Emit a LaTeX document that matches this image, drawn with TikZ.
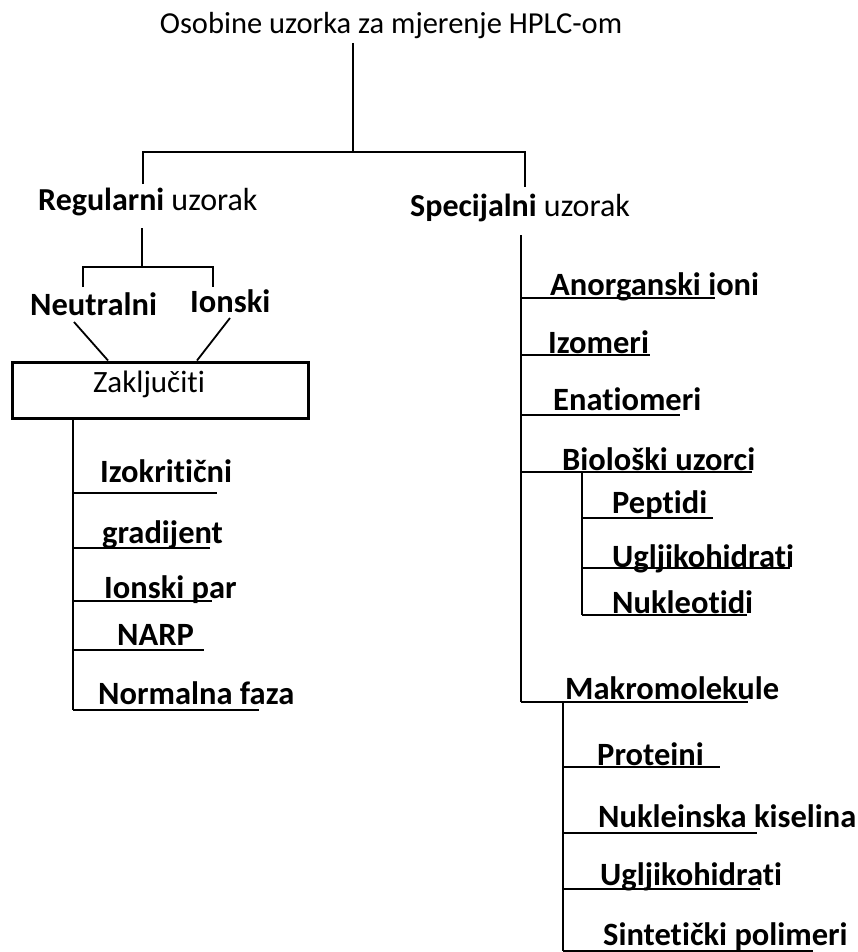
\documentclass[tikz,border=0pt]{standalone}
\usepackage{fontspec}
\setmainfont{Carlito}[Ligatures={NoCommon}]
\usetikzlibrary{positioning}

\tikzset{
  lbl/.style={font=\bfseries\fontsize{32.5}{38}\selectfont, inner sep=0pt, anchor=base west},
  plain/.style={font=\fontsize{31}{36}\selectfont, inner sep=0pt},
  tree/.style={line width=1.8pt},
  conclbox/.style={draw, line width=3pt, minimum width=296pt, minimum height=56pt, inner sep=0pt},
}

\begin{document}
\begin{tikzpicture}[x=1pt,y=-1pt]
	\useasboundingbox (0,0) rectangle (858,952);

	%title and first split
	\node[plain, anchor=base, font=\fontsize{30.5}{36}\selectfont] (title) at (391,34) {Osobine uzorka za mjerenje HPLC-om};
	\coordinate (split) at (353,152);
	\coordinate (regtop) at (143,184);
	\coordinate (spectop) at (525,187);
	\draw[tree] (split |- 0,43) -- (split);
	\draw[tree] (regtop) |- (split) -| (spectop);

	\node[plain, anchor=base west, font=\fontsize{32}{38}\selectfont] (regular) at (38,210) {\textbf{Regularni} uzorak};
	\node[plain, anchor=base west, font=\fontsize{32}{38}\selectfont] (special) at (410,216) {\textbf{Specijalni} uzorak};

	%regular sample
	\coordinate (regsplit) at (142,267);
	\coordinate (neutop) at (83,287);
	\coordinate (iontop) at (213,287);
	\draw[tree] (regsplit |- 0,228) -- (regsplit);
	\draw[tree] (neutop) |- (regsplit) -| (iontop);

	\node[lbl] (neutral) at (30,315) {Neutralni};
	\node[lbl] (ionic) at (190,312) {Ionski};

	\node[conclbox] (conclude) at (160,390) {};
	\node[plain, anchor=base] (concltext) at (149,392) {Zaključiti};
	\coordinate (neuend) at (74,322);
	\coordinate (ionend) at (230,318);
	\draw[tree] (neuend) -- ([xshift=-52pt]conclude.north);
	\draw[tree] (ionend) -- ([xshift=37pt]conclude.north);

	\coordinate (ltrunk) at (73,710);
	\draw[tree] (conclude.south -| ltrunk) -- (ltrunk);
	\foreach \n/\txt/\yb/\ly/\xe/\xt in {iso/Izokritični/482/493/217/100,
			grad/gradijent/543/548/210/102, ionpar/Ionski par/598/601/212/104,
			narp/NARP/645/650/204/117, normal/Normalna faza/704/710/259/98}
	{
		\node[lbl] (\n) at (\xt,\yb) {\txt};
		\draw[tree] (ltrunk |- 0,\ly) -- (\xe,\ly);
	}

	%special sample
	\coordinate (rtrunk) at (521,702);
	\draw[tree] (rtrunk |- 0,235) -- (rtrunk);
	\foreach \n/\txt/\yb/\ly/\xe/\xt in {anorg/Anorganski ioni/295/298/715/550,
			izo/Izomeri/353/355/650/548, enat/Enatiomeri/410/415/680/553,
			bio/Biološki uzorci/470/472/752/562, macro/Makromolekule/699/702/748/565}
	{
		\node[lbl] (\n) at (\xt,\yb) {\txt};
		\draw[tree] (rtrunk |- 0,\ly) -- (\xe,\ly);
	}

	%biological samples
	\coordinate (biotrunk) at (582,615);
	\draw[tree] (biotrunk |- 0,472) -- (biotrunk);
	\foreach \n/\txt/\yb/\ly/\xe/\xt in {pept/Peptidi/513/518/713/612,
			carb/Ugljikohidrati/567/568/790/612, nukleo/Nukleotidi/613/615/747/612}
	{
		\node[lbl] (\n) at (\xt,\yb) {\txt};
		\draw[tree] (biotrunk |- 0,\ly) -- (\xe,\ly);
	}

	%macromolecules
	\coordinate (mactrunk) at (563,951);
	\draw[tree] (mactrunk |- 0,702) -- (mactrunk);
	\foreach \n/\txt/\yb/\ly/\xe/\xt in {prot/Proteini/765/767/720/597,
			nucl/Nukleinska kiselina/827/833/757/598, carbm/Ugljikohidrati/885/889/760/600,
			sint/Sintetički polimeri/945/951/813/603}
	{
		\node[lbl] (\n) at (\xt,\yb) {\txt};
		\draw[tree] (mactrunk |- 0,\ly) -- (\xe,\ly);
	}
\end{tikzpicture}
\end{document}
